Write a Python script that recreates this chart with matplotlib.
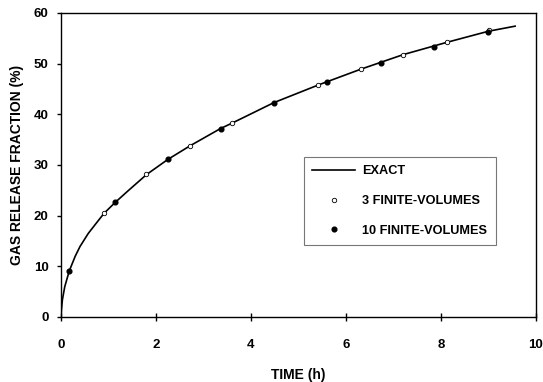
import matplotlib.pyplot as plt

plt.rcParams['font.family'] = ['Liberation Sans', 'DejaVu Sans']
plt.rcParams['font.weight'] = 'bold'

# exact solution
t_exact = [0, 0.01, 0.03, 0.08, 0.175, 0.3, 0.4, 0.575, 0.75, 0.91, 1.14, 1.4,
           1.8, 2.25, 2.72, 3.36, 3.61, 4.48, 5.42, 6.31, 7.21, 8.12, 9.0, 9.56]
f_exact = [0, 1.5, 3.4, 6.0, 9.1, 12.0, 13.9, 16.5, 18.6, 20.5, 22.6, 24.8,
           28.1, 31.1, 33.8, 37.2, 38.3, 42.3, 45.8, 48.9, 51.8, 54.2, 56.4, 57.4]

# 3 finite volumes (open circles)
t_fv3 = [0.91, 1.8, 2.72, 3.61, 5.42, 6.31, 7.21, 8.12, 9.01]
f_fv3 = [20.5, 28.2, 33.8, 38.3, 45.8, 48.9, 51.8, 54.2, 56.7]

# 10 finite volumes (filled circles)
t_fv10 = [0.175, 1.14, 2.25, 3.36, 4.48, 5.61, 6.74, 7.85, 8.99]
f_fv10 = [9.1, 22.6, 31.2, 37.2, 42.3, 46.4, 50.1, 53.3, 56.3]

xticks = [0, 2, 4, 6, 8, 10]
yticks = [0, 10, 20, 30, 40, 50, 60]

fig = plt.figure(figsize=(5.43, 3.82), dpi=100)
ax = fig.add_axes([0.1123, 0.1702, 0.8748, 0.7958])

ax.plot(t_exact, f_exact, color='black', lw=1.2, label='EXACT', zorder=2)
ax.plot(t_fv3, f_fv3, ls='none', marker='o', ms=3.2, mfc='white', mec='black',
        mew=0.6, label='3 FINITE-VOLUMES', zorder=3)
ax.plot(t_fv10, f_fv10, ls='none', marker='o', ms=3.4, mfc='black', mec='black',
        label='10 FINITE-VOLUMES', zorder=3)

ax.set_xlim(0, 10)
ax.set_ylim(0, 60)
ax.set_xticks(xticks)
ax.set_yticks(yticks)
ax.tick_params(axis='x', direction='inout', length=6, width=1, pad=13, labelsize=9.5)
ax.tick_params(axis='y', direction='out', length=3, width=1, pad=6, labelsize=9.5)
for s in ax.spines.values():
    s.set_linewidth(1.0)

ax.set_xlabel('TIME (h)', fontsize=10, fontweight='bold', labelpad=12)
ax.set_ylabel('GAS RELEASE FRACTION (%)', fontsize=10, fontweight='bold', labelpad=7)

leg = ax.legend(loc='upper left', bbox_to_anchor=(0.512, 0.527), fontsize=9.2,
                frameon=True, fancybox=False, edgecolor='#555555', borderpad=0.65,
                labelspacing=1.4, handlelength=3.3, handletextpad=0.6,
                borderaxespad=0)
leg.get_frame().set_linewidth(0.8)

fig.savefig('out.png', dpi=100)
